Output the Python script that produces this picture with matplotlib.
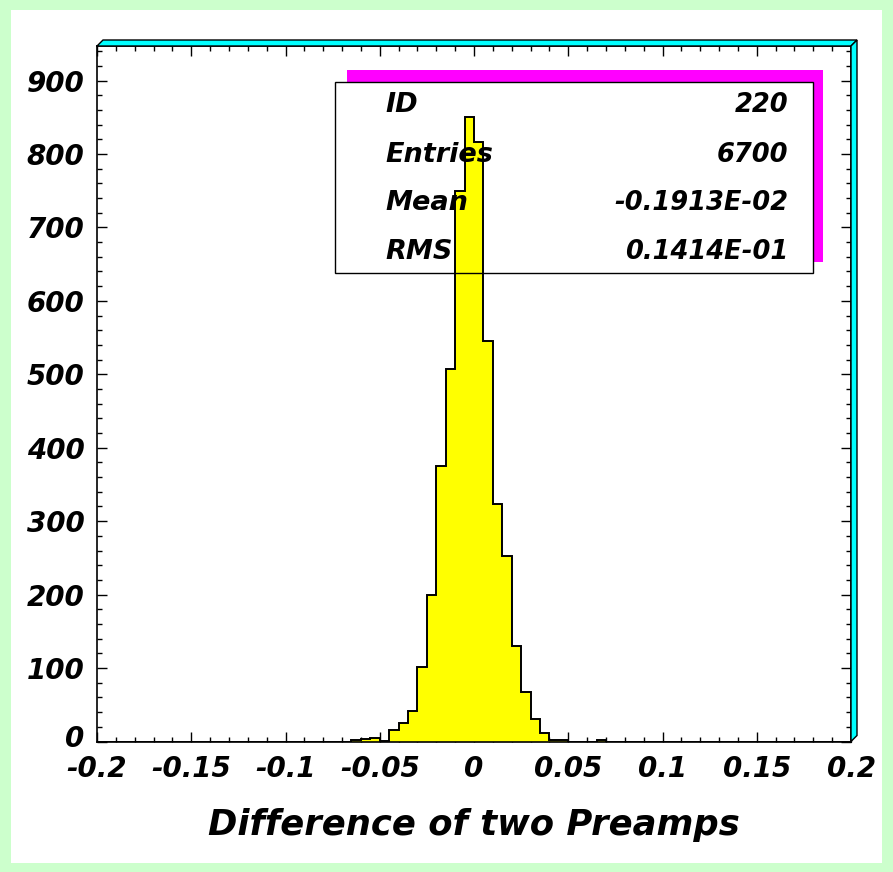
import numpy as np
import matplotlib
matplotlib.use("Agg")
import matplotlib.pyplot as plt
import matplotlib.transforms as mtransforms
from matplotlib.patches import Rectangle, Polygon
from matplotlib.ticker import FixedLocator, FixedFormatter, MultipleLocator

# histogram 220: bin lower edges every 0.005 between -0.2 and 0.2
BIN_LO = -0.2
BIN_HI = 0.2
BIN_W = 0.005
# non-empty bins, keyed by lower edge
NZ_LO = [-0.065, -0.060, -0.055, -0.050, -0.045, -0.040, -0.035, -0.030,
         -0.025, -0.020, -0.015, -0.010, -0.005, 0.000, 0.005, 0.010,
         0.015, 0.020, 0.025, 0.030, 0.035, 0.040, 0.045, 0.065]
NZ_COUNTS = [2, 3, 5, 1, 15, 25, 42, 102,
             200, 375, 507, 749, 851, 816, 545, 323,
             252, 130, 68, 31, 11, 2, 2, 2]

XTICKS = [-0.2, -0.15, -0.1, -0.05, 0, 0.05, 0.1, 0.15, 0.2]
XTICK_LABELS = ["-0.2", "-0.15", "-0.1", "-0.05", "0", "0.05", "0.1", "0.15", "0.2"]
YTICKS = [0, 100, 200, 300, 400, 500, 600, 700, 800, 900]

STAT_NAMES = ["ID", "Entries", "Mean", "RMS"]
STAT_VALUES = ["220", "6700", "-0.1913E-02", "0.1414E-01"]
XLABEL = "Difference of two Preamps"

FONT = dict(family="DejaVu Sans", weight="bold", style="italic")

edges = np.round(np.arange(BIN_LO, BIN_HI + BIN_W / 2, BIN_W), 4)
counts = np.zeros(len(edges) - 1)
for lo, c in zip(NZ_LO, NZ_COUNTS):
    counts[int(round((lo - BIN_LO) / BIN_W))] = c

W, H = 893, 872
fig = plt.figure(figsize=(W / 100, H / 100), dpi=100)
fig.patch.set_facecolor("#ccffcc")

def fx(px):
    return px / W

def fy(py):
    return 1 - py / H

# white page inside the green frame
fig.add_artist(Rectangle((fx(11), fy(863)), fx(882) - fx(11), fy(10) - fy(863),
                         transform=fig.transFigure, facecolor="white",
                         edgecolor="none", zorder=0))

L, R, T, B = 97, 851, 46, 741.5
ax = fig.add_axes([fx(L), fy(B), fx(R) - fx(L), fy(T) - fy(B)])
ax.set_facecolor("white")
ax.set_xlim(BIN_LO, BIN_HI)
ax.set_ylim(0, 947)

# pseudo-3D cyan rim on top and right of the frame
d = 6
top_rim = Polygon([(fx(L), fy(T)), (fx(L + d), fy(T - d)), (fx(R + d), fy(T - d)), (fx(R), fy(T))],
                  closed=True, transform=fig.transFigure, facecolor="#00ffff",
                  edgecolor="black", linewidth=1.0, zorder=5)
right_rim = Polygon([(fx(R), fy(T)), (fx(R + d), fy(T - d)), (fx(R + d), fy(B - d)), (fx(R), fy(B))],
                    closed=True, transform=fig.transFigure, facecolor="#00ffff",
                    edgecolor="black", linewidth=1.0, zorder=5)
fig.add_artist(top_rim)
fig.add_artist(right_rim)

def axf(px, py):
    return ((px - L) / (R - L), (B - py) / (B - T))

# stats box: magenta shadow and white fill sit under the histogram
sx0, sy0 = axf(347, 262)
sx1, sy1 = axf(823, 70)
ax.add_patch(Rectangle((sx0, sy0), sx1 - sx0, sy1 - sy0, transform=ax.transAxes,
                       facecolor="#ff00ff", edgecolor="none", zorder=0.5))
bx0, by0 = axf(335, 273)
bx1, by1 = axf(813, 82)
ax.add_patch(Rectangle((bx0, by0), bx1 - bx0, by1 - by0, transform=ax.transAxes,
                       facecolor="white", edgecolor="none", zorder=0.6))

ax.stairs(counts, edges, fill=True, facecolor="yellow", edgecolor="black",
          linewidth=1.4, zorder=2)

ax.add_patch(Rectangle((bx0, by0), bx1 - bx0, by1 - by0, transform=ax.transAxes,
                       facecolor="none", edgecolor="black", linewidth=1.0, zorder=3))
row_y = [105, 155, 203, 252]
for name, val, py in zip(STAT_NAMES, STAT_VALUES, row_y):
    lx, ly = axf(385, py)
    rx, _ = axf(788, py)
    ax.text(lx, ly, name, transform=ax.transAxes, ha="left", va="center",
            fontsize=19.5, zorder=4, **FONT)
    ax.text(rx, ly, val, transform=ax.transAxes, ha="right", va="center",
            fontsize=18.5, zorder=4, **FONT)

ax.xaxis.set_major_locator(FixedLocator(XTICKS))
ax.xaxis.set_major_formatter(FixedFormatter(XTICK_LABELS))
ax.xaxis.set_minor_locator(MultipleLocator(0.01))
ax.yaxis.set_major_locator(FixedLocator(YTICKS))
ax.yaxis.set_minor_locator(MultipleLocator(20))
ax.tick_params(which="both", direction="in", top=True, right=True, width=1.0)
ax.tick_params(which="major", length=7)
ax.tick_params(which="minor", length=3.5)
ax.tick_params(axis="y", pad=9)
ax.tick_params(axis="x", pad=10)
for lab in ax.get_xticklabels() + ax.get_yticklabels():
    lab.set_fontsize(20)
    lab.set_fontweight("bold")
    lab.set_fontstyle("italic")
for sp in ax.spines.values():
    sp.set_linewidth(1.2)

# lift the "0" count label a little so it clears the -0.2 label below it
zero_lab = ax.get_yticklabels()[0]
zero_lab.set_transform(zero_lab.get_transform() +
                       mtransforms.ScaledTranslation(0, 4 / 72, fig.dpi_scale_trans))

ax.set_xlabel(XLABEL, fontsize=25.5, labelpad=18, **FONT)

fig.savefig("out.png", dpi=100, facecolor=fig.get_facecolor())
